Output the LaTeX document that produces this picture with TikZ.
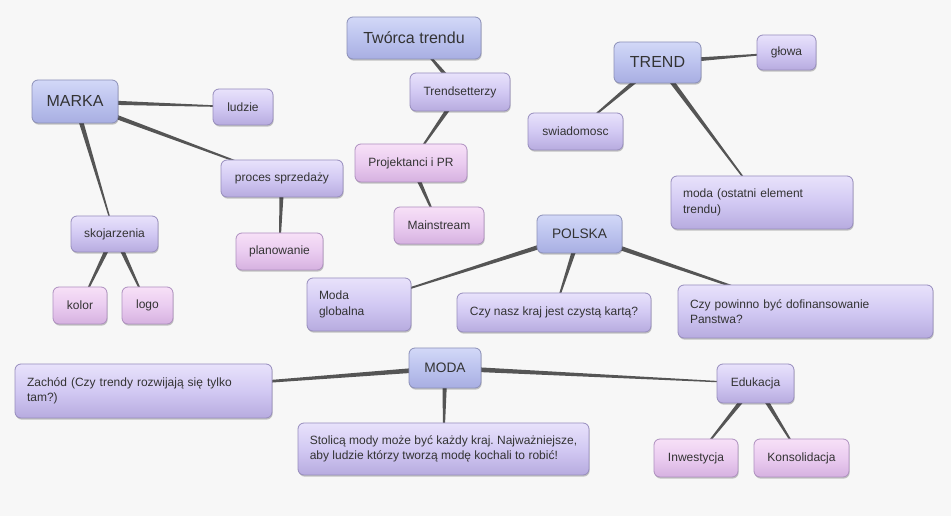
\documentclass[tikz,border=0pt]{standalone}
\usepackage{fontspec}
\setmainfont{Liberation Sans}
\usetikzlibrary{calc,shadows}
\pgfdeclarelayer{bg}
\pgfsetlayers{bg,main}
\definecolor{txt}{HTML}{333333}
\definecolor{paper}{HTML}{F7F7F7}
\definecolor{connc}{HTML}{555555}
\definecolor{bluetop}{HTML}{D2D8F7}
\definecolor{bluemid}{HTML}{BCC3EE}
\definecolor{bluebot}{HTML}{A8AEE2}
\definecolor{bluebd}{HTML}{8C90B8}
\definecolor{purtop}{HTML}{E8E2FB}
\definecolor{purmid}{HTML}{D2C9F3}
\definecolor{purbot}{HTML}{B7ABDF}
\definecolor{purbd}{HTML}{978DBD}
\definecolor{pintop}{HTML}{F7E0F7}
\definecolor{pinmid}{HTML}{EACCF0}
\definecolor{pinbot}{HTML}{D6B1E0}
\definecolor{pinbd}{HTML}{AE90BF}
\newcommand\conn[2]{\fill[connc] ($(#1)!1.95pt!90:(#2)$) -- ($(#2)!0.3pt!-90:(#1)$) -- ($(#2)!0.3pt!90:(#1)$) -- ($(#1)!1.95pt!-90:(#2)$) -- cycle;}
\tikzset{
  box/.style={rounded corners=4.5pt, inner sep=0pt, text=txt, line width=0.6pt,
    drop shadow={shadow xshift=0.5pt, shadow yshift=-1.2pt, opacity=0.22, fill=black},
    font=\fontsize{9}{11.5}\selectfont},
  bluebox/.style={box, draw=bluebd, top color=bluetop, bottom color=bluebot, middle color=bluemid},
  purbox/.style={box, draw=purbd, top color=purtop, bottom color=purbot, middle color=purmid},
  pinbox/.style={box, draw=pinbd, top color=pintop, bottom color=pinbot, middle color=pinmid},
  sz/.style 2 args={minimum width=#1*0.75pt, minimum height=#2*0.75pt},
  ml/.style={align=left, text width=#1*0.75pt},
  big/.style={font=\fontsize{12}{14}\selectfont},
  mid/.style={font=\fontsize{10.3}{12}\selectfont}
}
\frenchspacing
\begin{document}
\begin{tikzpicture}[x=0.75pt,y=-0.75pt]
\begin{pgfonlayer}{bg}
\fill[paper] (0,0) rectangle (951,516);
\end{pgfonlayer}
\useasboundingbox (0,0) rectangle (951,516);
% MARKA cluster
\node[bluebox, big, sz={86}{43}] (marka) at (75,101.5) {MARKA};
\node[purbox, sz={60}{36}] (ludzie) at (243,107) {ludzie};
\node[purbox, sz={122}{37}] (proces) at (282,178.5) {proces sprzedaży};
\node[purbox, sz={87}{36}] (skoj) at (114.5,234) {skojarzenia};
\node[pinbox, sz={87}{37}] (plan) at (279.5,251.5) {planowanie};
\node[pinbox, sz={54}{37}] (kolor) at (80,305.5) {kolor};
\node[pinbox, sz={51}{37}] (logo) at (147.5,305.5) {logo};
% Tworca cluster
\node[bluebox, big, sz={134}{42}] (tworca) at (414,38) {Twórca trendu};
\node[purbox, sz={100}{38}] (tset) at (460,92) {Trendsetterzy};
\node[pinbox, sz={112}{38}] (proj) at (411,163) {Projektanci i PR};
\node[pinbox, sz={90}{37}] (main) at (439,225.5) {Mainstream};
% TREND cluster
\node[bluebox, big, sz={87}{41}] (trend) at (657.5,62.5) {TREND};
\node[purbox, sz={59}{35}] (glowa) at (786.5,52.5) {głowa};
\node[purbox, sz={95}{37}] (swiad) at (575.5,131.5) {swiadomosc};
\node[purbox, sz={182}{53}, ml={158}] (modaost) at (762,202.5) {moda (ostatni element\\trendu)};
% POLSKA cluster
\node[bluebox, mid, sz={85}{38}] (polska) at (579.5,234) {POLSKA};
\node[purbox, sz={104}{53}, ml={80}] (modaglob) at (359,304.5) {Moda\\globalna};
\node[purbox, sz={194}{39}] (czynasz) at (554,312.5) {Czy nasz kraj jest czystą kartą?};
\node[purbox, sz={255}{53}, ml={231}] (czypow) at (805.5,311.5) {Czy powinno być dofinansowanie\\Panstwa?};
% MODA cluster
\node[bluebox, mid, sz={72}{40}] (moda) at (445,368) {MODA};
\node[purbox, sz={257}{54}, ml={233}] (zachod) at (143.5,391) {Zachód (Czy trendy rozwijają się tylko\\tam?)};
\node[purbox, sz={291}{52}, align=left] (stolica) at (443.5,449) {Stolicą mody może być każdy kraj. Najważniejsze,\\aby ludzie którzy tworzą modę kochali to robić!};
\node[purbox, sz={77}{39}] (eduk) at (755.5,383.5) {Edukacja};
\node[pinbox, sz={84}{38}] (inwest) at (696,458) {Inwestycja};
\node[pinbox, sz={95}{38}] (konsol) at (801.5,458) {Konsolidacja};
\begin{pgfonlayer}{bg}
\conn{marka}{ludzie}
\conn{marka}{proces}
\conn{marka}{skoj}
\conn{proces}{plan}
\conn{skoj}{kolor}
\conn{skoj}{logo}
\conn{tset}{tworca}
\conn{tset}{proj}
\conn{proj}{main}
\conn{trend}{glowa}
\conn{trend}{swiad}
\conn{trend}{modaost}
\conn{polska}{modaglob}
\conn{polska}{czynasz}
\conn{polska}{czypow}
\conn{moda}{zachod}
\conn{moda}{stolica}
\conn{moda}{eduk}
\conn{eduk}{inwest}
\conn{eduk}{konsol}
\end{pgfonlayer}
\end{tikzpicture}
\end{document}
